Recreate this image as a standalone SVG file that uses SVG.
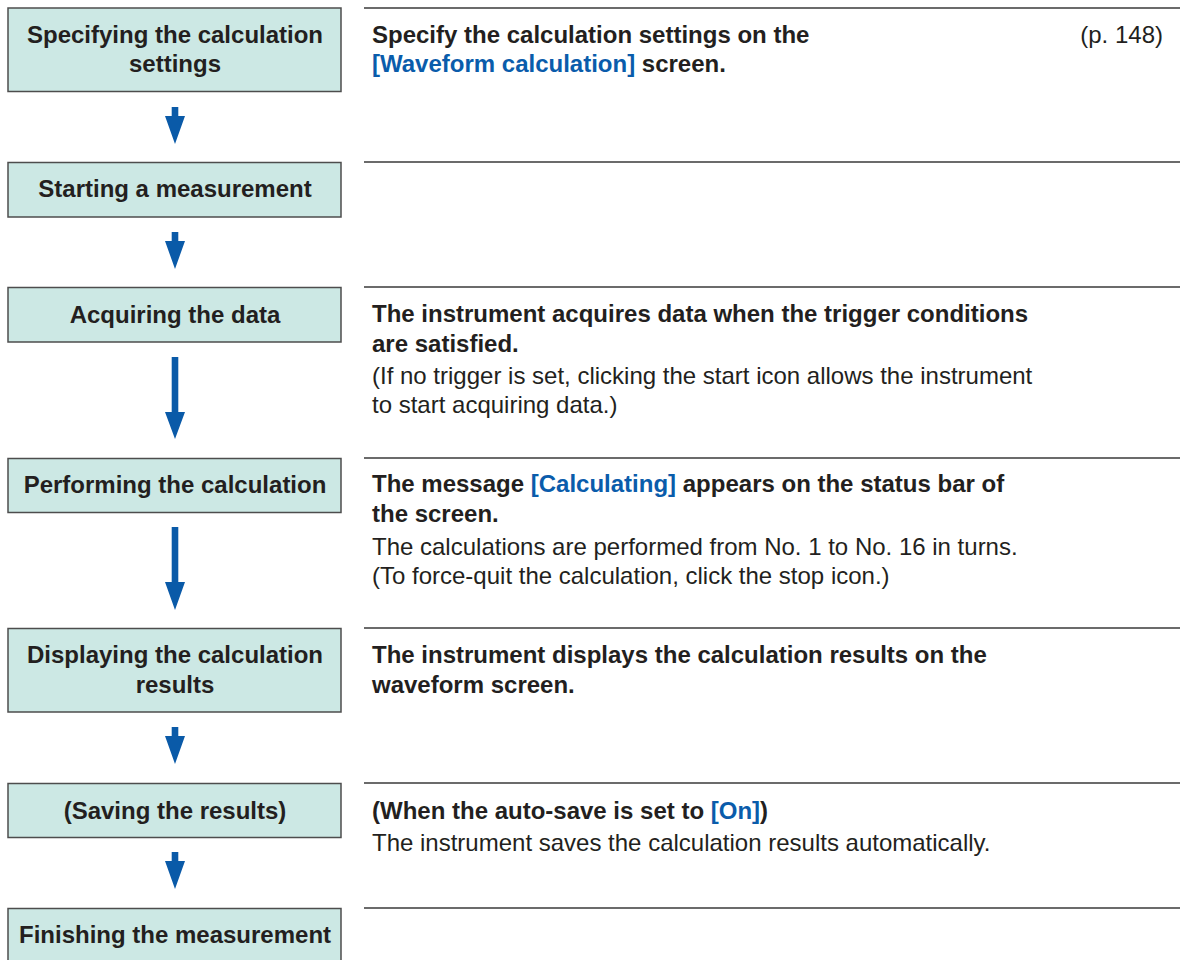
<svg xmlns="http://www.w3.org/2000/svg" width="1180" height="960" viewBox="0 0 1180 960">
<style>
  .box { fill: #cce8e4; stroke: #4d4d4d; stroke-width: 1.5; }
  .bt { font-family: "Liberation Sans", Arial, sans-serif; font-size: 24px; font-weight: bold; fill: #231f20; text-anchor: middle; }
  .b { font-family: "Liberation Sans", Arial, sans-serif; font-size: 24px; font-weight: bold; fill: #231f20; }
  .r { font-family: "Liberation Sans", Arial, sans-serif; font-size: 24px; fill: #231f20; }
  .blue { fill: #0a5cab; }
  .sep { stroke: #3a3a3a; stroke-width: 1.4; }
  .arr { fill: #0a5aa8; }
</style>
<rect width="1180" height="960" fill="#ffffff"/>

<g id="separators">
  <line class="sep" x1="364" y1="8" x2="1180" y2="8"/>
  <line class="sep" x1="364" y1="162" x2="1180" y2="162"/>
  <line class="sep" x1="364" y1="287" x2="1180" y2="287"/>
  <line class="sep" x1="364" y1="458" x2="1180" y2="458"/>
  <line class="sep" x1="364" y1="628" x2="1180" y2="628"/>
  <line class="sep" x1="364" y1="783" x2="1180" y2="783"/>
  <line class="sep" x1="364" y1="908" x2="1180" y2="908"/>
</g>

<g id="node-specifying">
  <rect class="box" x="8" y="8" width="333" height="83.5"/>
  <text class="bt" x="175" y="43">Specifying the calculation</text>
  <text class="bt" x="175" y="72">settings</text>
</g>
<g id="node-starting">
  <rect class="box" x="8" y="162.5" width="333" height="54.5"/>
  <text class="bt" x="175" y="197">Starting a measurement</text>
</g>
<g id="node-acquiring">
  <rect class="box" x="8" y="287.5" width="333" height="54.5"/>
  <text class="bt" x="175" y="322.5">Acquiring the data</text>
</g>
<g id="node-performing">
  <rect class="box" x="8" y="458.5" width="333" height="54"/>
  <text class="bt" x="175" y="493">Performing the calculation</text>
</g>
<g id="node-displaying">
  <rect class="box" x="8" y="628.5" width="333" height="83.5"/>
  <text class="bt" x="175" y="663">Displaying the calculation</text>
  <text class="bt" x="175" y="692.5">results</text>
</g>
<g id="node-saving">
  <rect class="box" x="8" y="783.5" width="333" height="54"/>
  <text class="bt" x="175" y="819">(Saving the results)</text>
</g>
<g id="node-finishing">
  <rect class="box" x="8" y="908.5" width="333" height="56"/>
  <text class="bt" x="175" y="943">Finishing the measurement</text>
</g>

<g id="connectors">
  <polygon class="arr" points="171.7,107 178.3,107 178.3,116 185,116 175,144 165,116 171.7,116"/>
  <polygon class="arr" points="171.7,232 178.3,232 178.3,241 185,241 175,269 165,241 171.7,241"/>
  <polygon class="arr" points="171.7,357 178.3,357 178.3,412 185,412 175,439 165,412 171.7,412"/>
  <polygon class="arr" points="171.7,527 178.3,527 178.3,582 185,582 175,610 165,582 171.7,582"/>
  <polygon class="arr" points="171.7,727 178.3,727 178.3,736 185,736 175,764 165,736 171.7,736"/>
  <polygon class="arr" points="171.7,852 178.3,852 178.3,861 185,861 175,889 165,861 171.7,861"/>
</g>

<g id="desc-specifying">
  <text class="b" x="372" y="43">Specify the calculation settings on the</text>
  <text class="b" x="372" y="72"><tspan class="blue">[Waveform calculation]</tspan> screen.</text>
  <text class="r" x="1163" y="43" text-anchor="end">(p. 148)</text>
</g>
<g id="desc-acquiring">
  <text class="b" x="372" y="322">The instrument acquires data when the trigger conditions</text>
  <text class="b" x="372" y="352">are satisfied.</text>
  <text class="r" x="372" y="384">(If no trigger is set, clicking the start icon allows the instrument</text>
  <text class="r" x="372" y="413">to start acquiring data.)</text>
</g>
<g id="desc-performing">
  <text class="b" x="372" y="492">The message <tspan class="blue">[Calculating]</tspan> appears on the status bar of</text>
  <text class="b" x="372" y="522">the screen.</text>
  <text class="r" x="372" y="555">The calculations are performed from No. 1 to No. 16 in turns.</text>
  <text class="r" x="372" y="584">(To force-quit the calculation, click the stop icon.)</text>
</g>
<g id="desc-displaying">
  <text class="b" x="372" y="663">The instrument displays the calculation results on the</text>
  <text class="b" x="372" y="693">waveform screen.</text>
</g>
<g id="desc-saving">
  <text class="b" x="372" y="819">(When the auto-save is set to <tspan class="blue">[On]</tspan>)</text>
  <text class="r" x="372" y="851">The instrument saves the calculation results automatically.</text>
</g>
</svg>
